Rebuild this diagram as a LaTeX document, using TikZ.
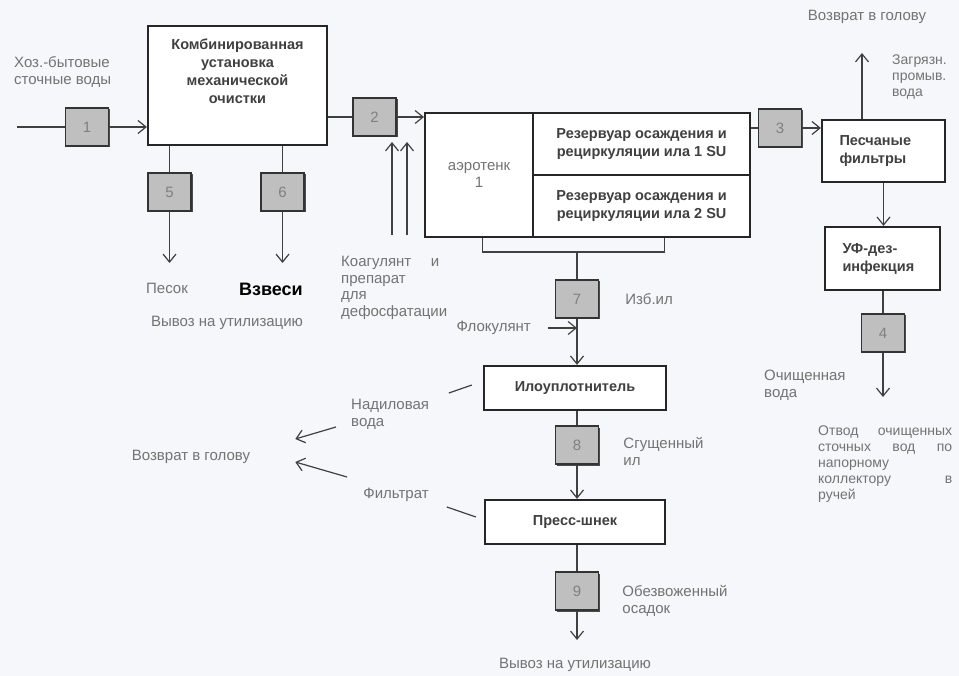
\documentclass[tikz,border=0pt]{standalone}
\usepackage{fontspec}
\setmainfont{Liberation Sans}
\usepackage{tikz}
\usetikzlibrary{positioning,arrows.meta,shadows}
\definecolor{paper}{RGB}{246,247,250}

\tikzset{
  bigbox/.style={draw=black!85, line width=2.2pt, fill=white, align=center},
  numbox/.style={draw=black!80, line width=1.5pt, fill=black!25, minimum width=43pt, minimum height=38pt,
    text=black!50, font=\fontsize{15}{18}\selectfont,
    drop shadow={shadow xshift=1.5pt, shadow yshift=-1.5pt, fill=black!70, opacity=1}},
  boxtext/.style={text=black!75, font=\bfseries\fontsize{14.5}{18}\selectfont},
  greytext/.style={text=black!55, font=\fontsize{15}{17}\selectfont},
  note/.style={greytext, inner sep=0pt},
  pipe/.style={draw=black!75, line width=1.2pt},
  flow/.style={pipe, -{Straight Barb[length=8pt, width=13pt]}}
}

\begin{document}
\begin{tikzpicture}[x=1pt,y=-1pt]
  \fill[paper] (0,0) rectangle (959,676);
  \useasboundingbox (0,0) rectangle (959,676);

  % Mechanical treatment
  \coordinate (inflow) at (17,127);
  \node[numbox] (n1) at (87,127) {1};
  \node[bigbox, minimum width=179pt, minimum height=119pt] (mech) at (237.5,85.5) {};
  \node[boxtext, align=center, inner sep=0pt, anchor=north] (mechtxt) at ([yshift=-14pt]mech.north)
    {Комбинированная\\установка\\механической\\очистки};
  \node[note, align=left, anchor=north west] (sewage) at (14,56) {Хоз.-бытовые\\сточные воды};
  \draw[pipe] (inflow) -- (n1);
  \draw[flow] (n1) -- (n1 -| mech.west);

  % Sand and suspended solids
  \node[numbox] (n5) at (169.5,192) {5};
  \node[numbox] (n6) at (282.5,192) {6};
  \coordinate (sandout) at (169.5,263);
  \coordinate (suspout) at (282.5,263);
  \draw[pipe] (n5 |- mech.south) -- (n5);
  \draw[pipe] (n6 |- mech.south) -- (n6);
  \draw[flow] (n5) -- (sandout);
  \draw[flow] (n6) -- (suspout);
  \node[note] (sand) at (167,288) {Песок};
  \node[text=black, font=\bfseries\fontsize{18}{20}\selectfont, inner sep=0pt] (susp) at (271,289) {Взвеси};
  \node[note] (disp1) at (227,323) {Вывоз на утилизацию};

  % Biological treatment
  \node[numbox] (n2) at (374.5,117) {2};
  \node[bigbox, greytext, minimum width=108pt, minimum height=124pt, anchor=north west] (aero) at (424,112) {аэротенк\\1};
  \node[bigbox, boxtext, minimum width=217pt, minimum height=62pt, anchor=north west] (su1) at (532,112)
    {Резервуар осаждения и\\рециркуляции ила 1 SU};
  \node[bigbox, boxtext, minimum width=217pt, minimum height=62pt, anchor=north west] (su2) at (532,174)
    {Резервуар осаждения и\\рециркуляции ила 2 SU};
  \draw[pipe] (n2 -| mech.east) -- (n2);
  \draw[flow] (n2) -- (n2 -| aero.west);

  % Coagulant dosing
  \coordinate (coag1) at (392,235);
  \coordinate (coag2) at (407,235);
  \coordinate (coagtip1) at (392,142);
  \coordinate (coagtip2) at (407,142);
  \draw[flow] (coag1) -- (coagtip1);
  \draw[flow] (coag2) -- (coagtip2);
  \node[note, anchor=north west, text width=98pt, align=justify, font=\fontsize{15}{16.5}\selectfont] (coag) at (341,256)
    {Коагулянт\hfill и\\препарат\\для\\дефосфатации};

  % Excess sludge
  \coordinate (brk) at (577,252);
  \draw[pipe] ([xshift=3pt]aero.south) |- (brk) -| ([xshift=22.5pt]su2.south);
  \node[numbox] (n7) at (577,299) {7};
  \draw[pipe] (brk) -- (n7);
  \node[note, right=26pt of n7] (excess) {Изб.ил};
  \node[note, anchor=east] (floc) at (531,328) {Флокулянт};
  \node[bigbox, boxtext, minimum width=182pt, minimum height=44pt] (thick) at (575,388) {Илоуплотнитель};
  \draw[flow] (n7) -- (n7 |- thick.north);
  \draw[flow] ([xshift=17pt]floc.east) -- (floc.east -| n7.south);

  % Sludge dewatering
  \node[numbox] (n8) at (577,445) {8};
  \node[bigbox, boxtext, minimum width=180pt, minimum height=44pt] (press) at (575,522) {Пресс-шнек};
  \draw[pipe] (n8 |- thick.south) -- (n8);
  \draw[flow] (n8) -- (n8 |- press.north);
  \node[note, align=left, right=24pt of n8, yshift=-7pt] (thickened) {Сгущенный\\ил};
  \node[numbox] (n9) at (577,591) {9};
  \coordinate (cakeout) at (577,640);
  \draw[pipe] (n9 |- press.south) -- (n9);
  \draw[flow] (n9) -- (cakeout);
  \node[note, align=left, right=23pt of n9, yshift=-10pt] (cake) {Обезвоженный\\осадок};
  \node[note] (disp2) at (575,665) {Вывоз на утилизацию};

  % Return flows
  \node[note] (ret2) at (191,457) {Возврат в голову};
  \node[note, align=left, anchor=north west] (supern) at (351,399) {Надиловая\\вода};
  \node[note] (filtr) at (396,495) {Фильтрат};
  \coordinate (supin) at (336,427);
  \coordinate (filin) at (347,477);
  \draw[pipe] ([xshift=-11pt,yshift=3pt]thick.west) -- ++(-23,8);
  \draw[pipe] ([xshift=-8pt,yshift=5pt]press.west) -- ++(-29,-10);
  \draw[flow] (supin) -- ([xshift=45pt,yshift=18pt]ret2.east);
  \draw[flow] (filin) -- ([xshift=45pt,yshift=-5pt]ret2.east);

  % Tertiary treatment
  \node[numbox] (n3) at (780,128) {3};
  \node[bigbox, boxtext, minimum width=123pt, minimum height=62pt, text width=88pt, align=left] (sandf) at (883.5,151)
    {Песчаные\\фильтры};
  \draw[pipe] (n3 -| su1.east) -- (n3);
  \draw[flow] (n3) -- (n3 -| sandf.west);
  \coordinate (washtip) at (862,53);
  \draw[flow] (sandf.north -| washtip) -- (washtip);
  \node[note] (ret1) at (867,17) {Возврат в голову};
  \node[note, align=left, anchor=north west, font=\fontsize{14}{16}\selectfont] (wash) at (892,55) {Загрязн.\\промыв.\\вода};
  \node[bigbox, boxtext, minimum width=115pt, minimum height=63pt, text width=80pt, align=left] (uv) at (882.5,258.5)
    {УФ-дез-\\инфекция};
  \draw[flow] (sandf.south) -- (sandf.south |- uv.north);
  \node[numbox] (n4) at (883,333) {4};
  \coordinate (cleanout) at (883,397);
  \draw[pipe] (n4 |- uv.south) -- (n4);
  \draw[flow] (n4) -- (cleanout);
  \node[note, align=left, anchor=north west] (clean) at (764,370) {Очищенная\\вода};
  \node[note, anchor=north west, text width=134pt, align=justify, font=\fontsize{14}{16}\selectfont] (outlet) at (818,426)
    {Отвод\hfill очищенных\\сточных\hfill вод\hfill по\\напорному\\коллектору\hfill в\\ручей};
\end{tikzpicture}
\end{document}
